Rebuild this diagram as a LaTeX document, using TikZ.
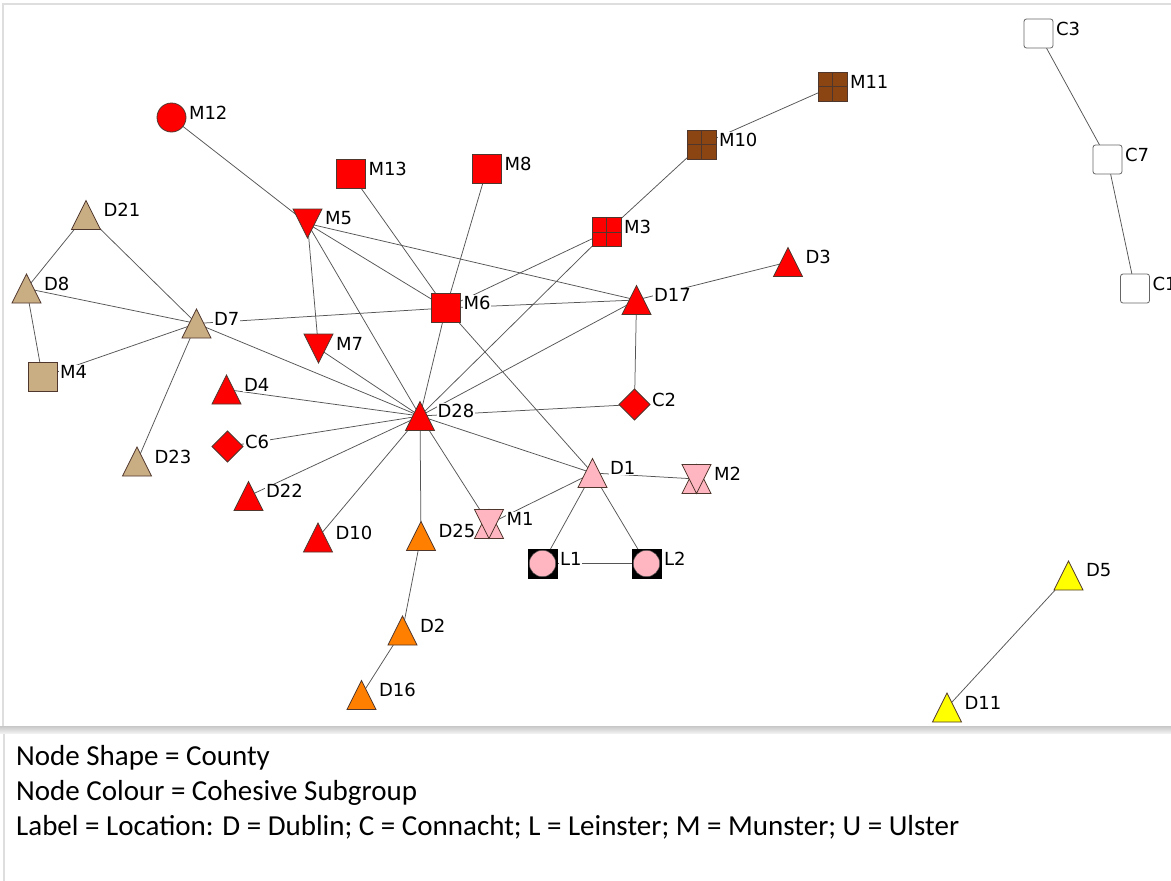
\documentclass[tikz,border=0pt]{standalone}
\usepackage{fontspec}
\setmainfont{DejaVu Sans}
\newfontfamily\legendfont{Carlito}
\usetikzlibrary{backgrounds}

\definecolor{nred}{RGB}{255,0,0}
\definecolor{ntan}{RGB}{201,174,132}
\definecolor{nbrown}{RGB}{139,69,19}
\definecolor{npink}{RGB}{255,182,193}
\definecolor{norange}{RGB}{255,128,0}
\definecolor{nyellow}{RGB}{255,255,0}
\definecolor{edgegray}{RGB}{85,85,85}
\definecolor{outline}{RGB}{80,55,45}
\definecolor{framegray}{RGB}{222,222,222}

\tikzset{
  vert/.style={inner sep=0pt, minimum size=0pt, outer sep=0pt},
  lab/.style={anchor=west, fill=white, inner sep=0.8pt, font=\fontsize{18}{18}\selectfont},
  tie/.style={draw=edgegray, line width=0.75pt},
  shapeline/.style={draw=outline, line width=0.8pt},
  legend/.style={anchor=base west, inner sep=0pt, font=\legendfont\fontsize{29}{29}\selectfont},
  % node glyphs, drawn around the vertex position
  tri/.pic={\path[pic actions, shapeline] (-14.5,14.5) -- (14.5,14.5) -- (0,-14.5) -- cycle;},
  itri/.pic={\path[pic actions, shapeline] (-14.5,-14.5) -- (14.5,-14.5) -- (0,14.5) -- cycle;},
  sq/.pic={\path[pic actions, shapeline] (-14.5,-14.5) rectangle (14.5,14.5);},
  sqx/.pic={\path[pic actions, shapeline] (-14.5,-14.5) rectangle (14.5,14.5);
            \draw[outline, line width=0.8pt] (0,-14.5) -- (0,14.5) (-14.5,0) -- (14.5,0);},
  rsq/.pic={\path[pic actions, draw=black!60, line width=0.8pt, rounded corners=2.5pt] (-14.5,-14.5) rectangle (14.5,14.5);},
  circ/.pic={\path[pic actions, shapeline] (0,0) circle[radius=14.5];},
  diam/.pic={\path[pic actions, shapeline] (0,-15.5) -- (15.5,0) -- (0,15.5) -- (-15.5,0) -- cycle;},
  hglass/.pic={\path[pic actions, shapeline] (-14.5,14.5) -- (14.5,14.5) -- (0,-14.5) -- cycle;
               \path[pic actions, shapeline] (-14.5,-14.5) -- (14.5,-14.5) -- (0,14.5) -- cycle;},
  lsq/.pic={\path[fill=black, draw=black] (-14.5,-14.5) rectangle (14.5,14.5);
            \path[pic actions, draw=black!70, line width=0.5pt] (0,0) circle[radius=13.2];},
}

% \vtx{name}{x}{y}{glyph}{fill}: vertex, its glyph and its name tag
\newcommand\vtx[5]{%
  \node[vert] (#1) at (#2,#3) {};
  \pic[fill=#5] at (#1) {#4};
  \node[lab] (#1-tag) at ([shift={(16.5pt,5pt)}]#1.center) {#1};
}

\begin{document}
\begin{tikzpicture}[x=1pt, y=-1pt]
\useasboundingbox (0,0) rectangle (1171,881);

% vertices
\vtx{M12}{171.5}{117.5}{circ}{nred}
\vtx{M13}{351}{174}{sq}{nred}
\vtx{M8}{487}{169}{sq}{nred}
\vtx{M10}{701.5}{144.5}{sqx}{nbrown}
\vtx{M11}{832.5}{86.5}{sqx}{nbrown}
\vtx{C3}{1038.5}{33.5}{rsq}{white}
\vtx{C7}{1107.5}{159.5}{rsq}{white}
\vtx{C1}{1135}{288.5}{rsq}{white}
\vtx{D21}{86}{215}{tri}{ntan}
\vtx{D8}{26.5}{288.5}{tri}{ntan}
\vtx{M4}{42.5}{377}{sq}{ntan}
\vtx{D7}{196.5}{323.5}{tri}{ntan}
\vtx{D23}{137}{461.5}{tri}{ntan}
\vtx{M5}{307.5}{223.5}{itri}{nred}
\vtx{M3}{606.5}{232}{sqx}{nred}
\vtx{D3}{788}{262}{tri}{nred}
\vtx{M6}{446}{308}{sq}{nred}
\vtx{D17}{636.5}{300}{tri}{nred}
\vtx{M7}{318.5}{348.5}{itri}{nred}
\vtx{D4}{226.5}{389.5}{tri}{nred}
\vtx{C6}{227.5}{446.5}{diam}{nred}
\vtx{D28}{420}{416}{tri}{nred}
\vtx{C2}{634.5}{404.5}{diam}{nred}
\vtx{D1}{592.5}{473}{tri}{npink}
\vtx{M2}{696.5}{479}{hglass}{npink}
\vtx{D22}{248.5}{496}{tri}{nred}
\vtx{D10}{318}{537.5}{tri}{nred}
\vtx{D25}{421}{536}{tri}{norange}
\vtx{M1}{489}{524}{hglass}{npink}
\vtx{L1}{542.5}{563.5}{lsq}{npink}
\vtx{L2}{646.5}{563.5}{lsq}{npink}
\vtx{D2}{402.5}{630.5}{tri}{norange}
\vtx{D16}{361.5}{695}{tri}{norange}
\vtx{D5}{1068.5}{575.5}{tri}{nyellow}
\vtx{D11}{947}{707.5}{tri}{nyellow}

% legend
\node[legend] (leg1) at (16,765) {Node Shape = County};
\node[legend] (leg2) at (16,800) {Node Colour = Cohesive Subgroup};
\node[legend] (leg3) at (16,835) {Label = Location: D = Dublin; C = Connacht; L = Leinster; M = Munster; U = Ulster};

\begin{scope}[on background layer]
  % panel frames
  \fill[white] (0,0) rectangle (1171,881);
  \draw[framegray, line width=2pt] (3,727) -- (3,4) -- (1171,4);
  \shade[top color=black!22, bottom color=black!6] (0,726) rectangle (1171,733);
  \draw[framegray, line width=2pt] (4,734) -- (4,881);
  % ties
  \foreach \a/\b in {M12/M5, M13/M6, M8/M6, M10/M11, M10/M3, C3/C7, C7/C1,
                     D21/D8, D21/D7, D8/D7, D8/M4, M4/D7, D7/D23, D7/M6, D7/D28,
                     M5/M7, M5/M6, M5/D17, M5/D28, M3/M6, M3/D28, M6/D17, M6/D28,
                     M6/D1, D17/D3, D17/C2, D17/D28, D28/C2, D28/D4, D28/C6,
                     D28/D22, D28/D10, D28/D25, D28/M1, D28/D1, M7/D28, D25/D2,
                     D2/D16, D1/M1, D1/M2, D1/L1, D1/L2, L1/L2, D5/D11}
    \draw[tie] (\a) -- (\b);
\end{scope}
\end{tikzpicture}
\end{document}
